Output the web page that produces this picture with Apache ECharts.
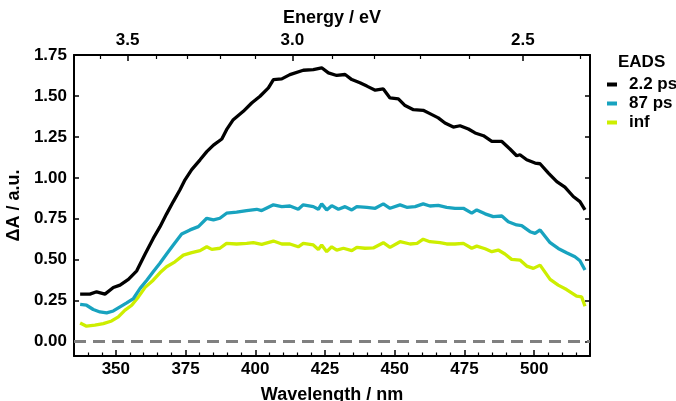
<!DOCTYPE html>
<html>
<head>
<meta charset="utf-8">
<script src="https://cdn.jsdelivr.net/npm/echarts@6/dist/echarts.min.js"></script>
<style>html,body{margin:0;padding:0;background:#fff;}#c{width:676px;height:401px;}</style>
</head>
<body>
<div id="c"></div>
<script>
const seriesNames = ['2.2 ps', '87 ps', 'inf'];
const blackX = [337.2,340.7,343.1,346.1,349.1,351.5,354.5,357.5,360.5,363.4,365.8,368.2,370.6,373,374.8,377.2,380.2,382.6,385,388,389.7,392.1,395.7,398.7,401.7,404.7,406.5,409.5,412.4,417.2,420.8,423.8,426.2,429.2,432.2,434.6,437.5,440,443,445.9,448.3,451.3,453.7,456.7,460.2,463.3,465.6,468,471,473.4,476.4,478.8,481.8,484.8,488.4,491.3,493.7,494.9,497.3,500.3,502.1,505.1,508.1,511,514,516.4,518.2];
const blackY = [0.29,0.29,0.304,0.29,0.33,0.345,0.38,0.432,0.535,0.63,0.70,0.78,0.855,0.927,0.988,1.05,1.11,1.16,1.20,1.237,1.294,1.355,1.406,1.457,1.498,1.549,1.60,1.604,1.63,1.657,1.661,1.672,1.641,1.625,1.631,1.60,1.58,1.56,1.535,1.543,1.488,1.482,1.441,1.416,1.412,1.386,1.366,1.335,1.31,1.318,1.298,1.274,1.257,1.222,1.222,1.176,1.135,1.141,1.11,1.09,1.086,1.029,0.977,0.943,0.886,0.855,0.804];
const tealX = [337.2,339.5,341.9,344.3,346.7,349.1,351.5,353.9,356.3,358.7,361.1,363.4,365.8,368.2,370.6,373.6,376.6,379.6,382.6,385,387.3,389.7,393.3,396.9,400.5,402.3,406.5,409.5,412.4,415.4,417.2,420.8,422.6,423.8,425.6,427.4,429.8,432.2,434.6,436.4,440,443,445.9,448.3,451.9,454.3,457.3,460.2,462.6,465.6,468.6,471.6,474.6,477.6,479.4,482.4,485.3,488.4,490.7,493.7,495.5,498.5,500.3,502.1,505.7,508.6,511.6,514.6,516.4,518.2];
const tealY = [0.227,0.222,0.196,0.181,0.175,0.187,0.212,0.236,0.263,0.325,0.375,0.426,0.478,0.535,0.59,0.657,0.682,0.702,0.753,0.743,0.753,0.784,0.79,0.80,0.808,0.80,0.835,0.824,0.828,0.808,0.835,0.824,0.808,0.841,0.804,0.83,0.808,0.824,0.804,0.824,0.82,0.814,0.841,0.814,0.835,0.82,0.824,0.841,0.828,0.832,0.82,0.814,0.814,0.784,0.804,0.78,0.763,0.767,0.732,0.712,0.708,0.671,0.661,0.682,0.604,0.569,0.543,0.518,0.494,0.437];
const limeX = [337.2,339.5,342.5,345.5,348.5,350.9,353.3,355.7,358.1,360.5,363.4,365.8,368.2,371.2,374.2,377.2,380.2,382.6,384.4,387.3,389.7,393.3,396.9,399.3,402.3,406.5,409.5,412.4,415.4,417.2,420.8,422.6,423.8,425.6,427.4,429.2,431.6,434.6,436.4,439.3,442.3,445.9,448.3,451.9,455.5,458,460.2,462.6,466.2,468.6,471.6,474.6,477.6,479.4,482.4,484.8,487.1,489.5,491.9,494.9,497.3,499.7,502.1,505.7,508.6,511.6,515.2,517,518.2];
const limeY = [0.114,0.094,0.10,0.11,0.126,0.151,0.192,0.222,0.273,0.331,0.375,0.42,0.457,0.487,0.528,0.543,0.555,0.579,0.563,0.57,0.60,0.596,0.60,0.604,0.594,0.614,0.596,0.596,0.579,0.60,0.59,0.563,0.59,0.549,0.579,0.559,0.57,0.555,0.575,0.57,0.572,0.604,0.575,0.61,0.596,0.60,0.625,0.61,0.604,0.596,0.596,0.60,0.57,0.583,0.567,0.549,0.559,0.535,0.502,0.498,0.461,0.447,0.467,0.38,0.345,0.318,0.277,0.273,0.216];
const xMajorTicks = [350,375,400,425,450,475,500];
const xMinorTicks = [340,345,355,360,365,370,380,385,390,395,405,410,415,420,430,435,440,445,455,460,465,470,480,485,490,495,505,510,515];
const yTicks = [0,0.25,0.5,0.75,1.0,1.25,1.5,1.75];
const eMajorTicks = [3.5,3.0,2.5];
const eMinorTicks = [3.6,3.4,3.3,3.2,3.1,2.9,2.8,2.7,2.6,2.4];
const HC = 1239.84;

const FONT = 'Liberation Sans, Arial, sans-serif';
const colors = ['#000000', '#18a3bf', '#cdee00'];
const xs = [blackX, tealX, limeX];
const ys = [blackY, tealY, limeY];
const zip = (a, b) => a.map((v, i) => [v, b[i]]);
const labelStyle = {fontFamily: FONT, fontWeight: 'bold', fontSize: 17, color: '#000'};
const nameStyle = {fontFamily: FONT, fontWeight: 'bold', fontSize: 18, color: '#000'};
const lineStyle = {show: true, onZero: false, lineStyle: {color: '#000', width: 2}};

const chart = echarts.init(document.getElementById('c'), null, {renderer: 'canvas'});
chart.setOption({
  animation: false,
  grid: {left: 74, right: 86, top: 55, bottom: 45, containLabel: false, outerBoundsMode: 'none'},
  title: {text: 'EADS', left: 613, top: 49, textStyle: {fontFamily: FONT, fontWeight: 'bold', fontSize: 17, color: '#000'}},
  legend: {
    data: seriesNames, orient: 'vertical', left: 602, top: 71, icon: 'rect',
    itemWidth: 10, itemHeight: 4, itemGap: 2,
    textStyle: {fontFamily: FONT, fontWeight: 'bold', fontSize: 17, color: '#000', padding: [0, 0, 0, 7]}
  },
  xAxis: [
    {type: 'value', position: 'bottom', min: 335, max: 520,
     name: 'Wavelength / nm', nameLocation: 'middle', nameGap: 30, nameTextStyle: nameStyle,
     axisLine: lineStyle, splitLine: {show: false},
     axisTick: {inside: true, length: 6, customValues: xMajorTicks, lineStyle: {color: '#000', width: 1.5}},
     axisLabel: {customValues: xMajorTicks, margin: 5, ...labelStyle}},
    {type: 'value', position: 'bottom', min: 335, max: 520,
     axisLine: {show: false, onZero: false}, splitLine: {show: false},
     axisTick: {inside: true, length: 3.5, customValues: xMinorTicks, lineStyle: {color: '#000', width: 1.2}},
     axisLabel: {show: false}},
    {type: 'value', position: 'top', min: 335, max: 520,
     name: 'Energy / eV', nameLocation: 'middle', nameGap: 27, nameTextStyle: nameStyle,
     axisLine: lineStyle, splitLine: {show: false},
     axisTick: {inside: true, length: 6, customValues: eMajorTicks.map(e => HC / e), lineStyle: {color: '#000', width: 1.5}},
     axisLabel: {customValues: eMajorTicks.map(e => HC / e), margin: 6, formatter: v => (HC / v).toFixed(1), ...labelStyle}},
    {type: 'value', position: 'top', min: 335, max: 520,
     axisLine: {show: false, onZero: false}, splitLine: {show: false},
     axisTick: {inside: true, length: 4, customValues: eMinorTicks.map(e => HC / e), lineStyle: {color: '#000', width: 1.2}},
     axisLabel: {show: false}}
  ],
  yAxis: [
    {type: 'value', position: 'left', min: -0.088, max: 1.75,
     name: 'ΔA / a.u.', nameLocation: 'middle', nameGap: 48, nameTextStyle: nameStyle,
     axisLine: lineStyle, splitLine: {show: false},
     axisTick: {inside: true, length: 5, customValues: yTicks, lineStyle: {color: '#000', width: 1.5}},
     axisLabel: {customValues: yTicks, margin: 7, formatter: v => v.toFixed(2), ...labelStyle}},
    {type: 'value', position: 'right', min: -0.088, max: 1.75,
     axisLine: lineStyle, splitLine: {show: false},
     axisTick: {inside: true, length: 5, customValues: yTicks, lineStyle: {color: '#000', width: 1.5}},
     axisLabel: {show: false}}
  ],
  series: [
    {name: 'zero', type: 'line', xAxisIndex: 0, yAxisIndex: 0, data: [[335, 0], [520, 0]],
     showSymbol: false, symbol: 'none', silent: true, z: 1,
     lineStyle: {color: '#808080', width: 3, type: [12, 7]}},
    ...seriesNames.map((n, i) => ({
      name: n, type: 'line', xAxisIndex: 0, yAxisIndex: 0, data: zip(xs[i], ys[i]),
      showSymbol: false, symbol: 'none', color: colors[i], z: 3 - i + 2,
      lineStyle: {color: colors[i], width: 3.3}
    }))
  ]
});
</script>
</body>
</html>
